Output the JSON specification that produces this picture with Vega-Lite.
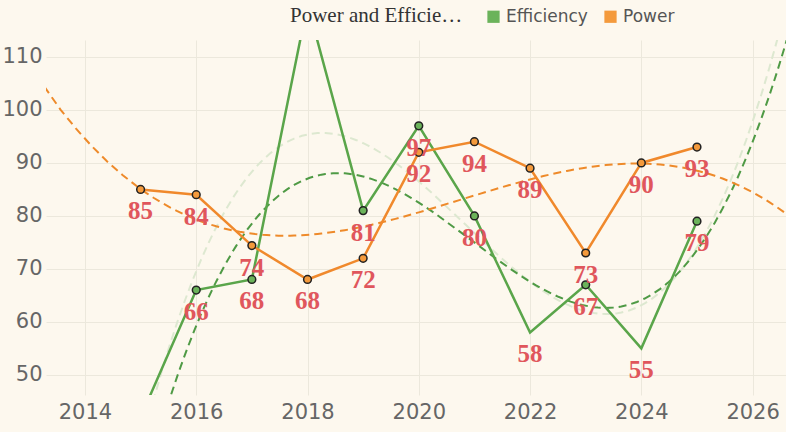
{
  "$schema": "https://vega.github.io/schema/vega-lite/v6.json",
  "width": 740,
  "height": 355,
  "autosize": {"type": "none"},
  "padding": {"left": 46, "top": 40, "right": 0, "bottom": 37},
  "background": "#fdf8ee",
  "config": {"view": {"stroke": null}},
  "data": {"values": [
    {"year": 2015, "series": "Efficiency", "value": 42},
    {"year": 2016, "series": "Efficiency", "value": 66},
    {"year": 2017, "series": "Efficiency", "value": 68},
    {"year": 2018, "series": "Efficiency", "value": 120},
    {"year": 2019, "series": "Efficiency", "value": 81},
    {"year": 2020, "series": "Efficiency", "value": 97},
    {"year": 2021, "series": "Efficiency", "value": 80},
    {"year": 2022, "series": "Efficiency", "value": 58},
    {"year": 2023, "series": "Efficiency", "value": 67},
    {"year": 2024, "series": "Efficiency", "value": 55},
    {"year": 2025, "series": "Efficiency", "value": 79},
    {"year": 2015, "series": "Power", "value": 85},
    {"year": 2016, "series": "Power", "value": 84},
    {"year": 2017, "series": "Power", "value": 74.4},
    {"year": 2018, "series": "Power", "value": 68},
    {"year": 2019, "series": "Power", "value": 72},
    {"year": 2020, "series": "Power", "value": 92},
    {"year": 2021, "series": "Power", "value": 94},
    {"year": 2022, "series": "Power", "value": 89},
    {"year": 2023, "series": "Power", "value": 73},
    {"year": 2024, "series": "Power", "value": 90},
    {"year": 2025, "series": "Power", "value": 93}
  ]},
  "encoding": {
    "x": {"field": "year", "type": "quantitative", "scale": {"domain": [2013.3, 2026.6], "nice": false, "zero": false},
      "axis": {"values": [2014, 2016, 2018, 2020, 2022, 2024, 2026], "format": "d", "title": null, "labelFontSize": 21, "labelColor": "#666", "labelFont": "DejaVu Sans", "domain": false, "ticks": false, "gridColor": "#ece8dc", "labelPadding": 6}},
    "y": {"field": "value", "type": "quantitative", "scale": {"domain": [46.2, 113.2], "nice": false, "zero": false},
      "axis": {"values": [50, 60, 70, 80, 90, 100, 110], "title": null, "labelFontSize": 21, "labelColor": "#666", "labelFont": "DejaVu Sans", "domain": false, "ticks": false, "gridColor": "#ece8dc", "labelPadding": 4}}
  },
  "layer": [
    {
      "transform": [{"filter": "datum.series === 'Efficiency'"}, {"regression": "value", "on": "year", "method": "poly", "order": 3, "extent": [2013, 2027]}],
      "mark": {"type": "line", "clip": true, "strokeDash": [8, 5], "strokeWidth": 2, "color": "#dde8d0"},
      "encoding": {}
    },
    {
      "transform": [{"filter": "datum.series === 'Efficiency' && datum.year !== 2018 && datum.year !== 2015"}, {"regression": "value", "on": "year", "method": "poly", "order": 3, "extent": [2013, 2027]}],
      "mark": {"type": "line", "clip": true, "strokeDash": [8, 5], "strokeWidth": 2, "color": "#4f9a45"},
      "encoding": {}
    },
    {
      "transform": [{"filter": "datum.series === 'Power'"}, {"regression": "value", "on": "year", "method": "poly", "order": 3, "extent": [2013, 2027]}],
      "mark": {"type": "line", "clip": true, "strokeDash": [8, 5], "strokeWidth": 2, "color": "#ee8a2a"},
      "encoding": {}
    },
    {
      "mark": {"type": "line", "clip": true, "strokeWidth": 2.5},
      "encoding": {"color": {"field": "series", "type": "nominal", "scale": {"domain": ["Efficiency", "Power"], "range": ["#5aa54a", "#f0892c"]},
        "legend": {"orient": "none", "legendX": 244, "legendY": -32, "direction": "horizontal", "title": "Power and Efficiency", "titleOrient": "left", "titleFont": "Liberation Serif", "titleFontSize": 21, "titleFontWeight": "normal", "titleColor": "#333", "titlePadding": 22, "symbolType": "square", "symbolSize": 150, "symbolStrokeWidth": 0, "labelFontSize": 17, "labelColor": "#555", "labelFont": "DejaVu Sans", "columnPadding": 14}}}
    },
    {
      "transform": [{"filter": "!(datum.series === 'Efficiency' && (datum.year === 2022 || datum.year === 2024))"}],
      "mark": {"type": "point", "clip": true, "filled": true, "size": 60, "stroke": "#222", "strokeWidth": 1.5, "opacity": 1},
      "encoding": {"fill": {"field": "series", "type": "nominal", "scale": {"domain": ["Efficiency", "Power"], "range": ["#6bb35a", "#f49a3c"]}, "legend": null}}
    },
    {
      "mark": {"type": "text", "clip": true, "dy": 22, "font": "Liberation Serif", "fontSize": 25, "fontWeight": "bold", "color": "#e0565c"},
      "encoding": {"text": {"field": "value", "type": "quantitative", "format": "d"}}
    }
  ]
}
